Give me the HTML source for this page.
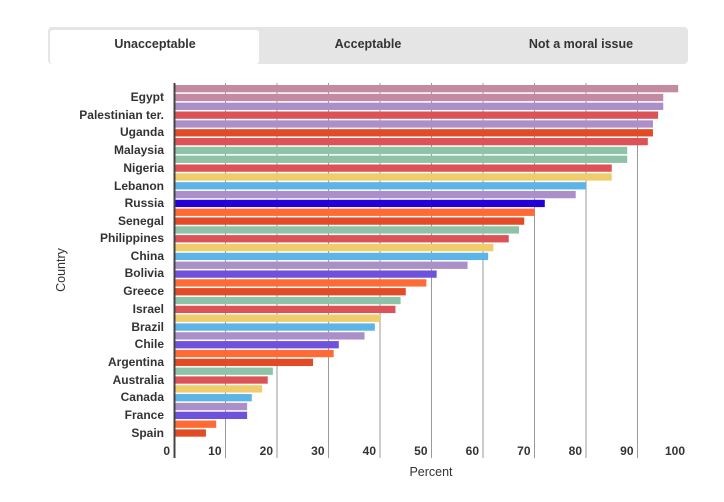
<!DOCTYPE html>
<html><head><meta charset="utf-8"><style>
body{margin:0;background:#fff;width:724px;height:497px;overflow:hidden;font-family:"Liberation Sans",sans-serif}
</style></head><body>
<svg width="724" height="497" xmlns="http://www.w3.org/2000/svg" font-family="Liberation Sans, sans-serif">
<rect x="48" y="27" width="640" height="37" rx="4" fill="#e5e5e5"/>
<rect x="50" y="30" width="209" height="34" rx="3" fill="#fff"/>
<g font-size="12.5" font-weight="bold" fill="#333" text-anchor="middle">
<text x="155" y="48">Unacceptable</text>
<text x="368" y="48">Acceptable</text>
<text x="581" y="48">Not a moral issue</text>
</g>
<g id="grid" stroke="#9a9a9a" stroke-width="1">
</g>
<g id="bars"></g>
<line x1="174.5" y1="83" x2="174.5" y2="458" stroke="#444" stroke-width="2"/>
<g font-size="12" font-weight="bold" fill="#333" text-anchor="end">
<text x="164" y="101">Egypt</text>
<text x="164" y="119">Palestinian ter.</text>
<text x="164" y="136">Uganda</text>
<text x="164" y="154">Malaysia</text>
<text x="164" y="172">Nigeria</text>
<text x="164" y="190">Lebanon</text>
<text x="164" y="207">Russia</text>
<text x="164" y="225">Senegal</text>
<text x="164" y="242">Philippines</text>
<text x="164" y="260">China</text>
<text x="164" y="277">Bolivia</text>
<text x="164" y="295">Greece</text>
<text x="164" y="313">Israel</text>
<text x="164" y="331">Brazil</text>
<text x="164" y="348">Chile</text>
<text x="164" y="366">Argentina</text>
<text x="164" y="384">Australia</text>
<text x="164" y="401">Canada</text>
<text x="164" y="419">France</text>
<text x="164" y="437">Spain</text>
</g>
<g id="xl" font-size="12" font-weight="bold" fill="#333" text-anchor="end"></g>
<text x="431" y="476" font-size="12.5" fill="#333" text-anchor="middle">Percent</text>
<text transform="translate(65,270) rotate(-90)" font-size="12.5" fill="#333" text-anchor="middle">Country</text>
<script>
var ns="http://www.w3.org/2000/svg";
var v=[97.9,95,95,94,93,93,92,88,88,85,85,80,78,72,70,68,67,65,62,61,57,51,49,45,44,43,40,39,37,32,31,27,19.2,18.2,17.1,15.1,14.2,14.2,8.2,6.2];
var P="#c48aa2",L="#ab8fc8",R="#dc5357",O="#e24b26",G="#8fc3a8",Y="#f0cc6a",B="#5db4e6",D="#2400d8",N="#ff6b35",U="#6f52dc";
var c=[P,P,L,R,L,O,R,G,G,R,Y,B,L,D,N,O,G,R,Y,B,L,U,N,O,G,R,Y,B,L,U,N,O,G,R,Y,B,L,U,N,O];
var g=document.getElementById("grid"),b=document.getElementById("bars"),xl=document.getElementById("xl");
for(var i=1;i<=9;i++){var x=174+i*51.5;var l=document.createElementNS(ns,"line");l.setAttribute("x1",x);l.setAttribute("x2",x);l.setAttribute("y1",83);l.setAttribute("y2",458);g.appendChild(l);}
for(var i=0;i<=10;i++){var t=document.createElementNS(ns,"text");t.setAttribute("x",174+i*51.5-4);t.setAttribute("y",455);t.textContent=i*10;xl.appendChild(t);}
for(var i=0;i<40;i++){var r=document.createElementNS(ns,"rect");r.setAttribute("x",175);r.setAttribute("y",85+i*8.83);r.setAttribute("width",v[i]*5.15-1);r.setAttribute("height",7.3);r.setAttribute("fill",c[i]);b.appendChild(r);}
</script>
</svg>
</body></html>
